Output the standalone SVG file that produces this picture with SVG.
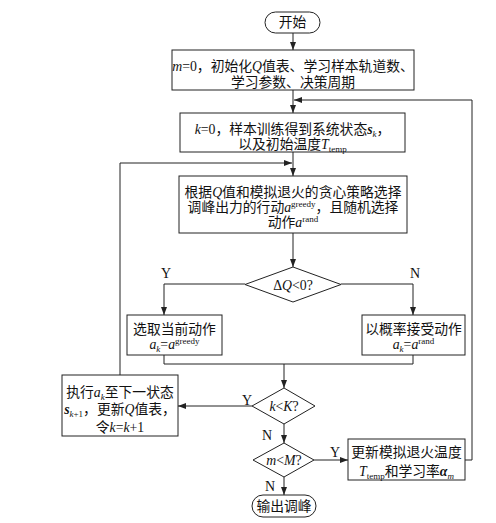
<svg xmlns="http://www.w3.org/2000/svg" width="496" height="523" viewBox="0 0 496 523">
<style>
  .box { fill: #fff; stroke: #222; stroke-width: 1; }
  .ln { fill: none; stroke: #222; stroke-width: 1; }
  .t { font-family: "Liberation Serif", "Noto Sans CJK SC", serif; font-size: 13.8px; fill: #111; text-anchor: middle; }
  .lab { font-family: "Liberation Serif", serif; font-size: 14px; fill: #111; text-anchor: middle; }
  .i { font-style: italic; }
  .bi { font-style: italic; font-weight: bold; }
  .s { font-size: 9px; }
</style>
<defs>
  <marker id="ah" viewBox="0 0 8 6" refX="8" refY="3" markerWidth="8" markerHeight="6" orient="auto" markerUnits="userSpaceOnUse">
    <path d="M0,0 L8,3 L0,6 z" fill="#222"/>
  </marker>
</defs>
<rect width="496" height="523" fill="#fff"/>

<g id="connectors">
  <path class="ln" d="M293,33 V50" marker-end="url(#ah)"/>
  <path class="ln" d="M293,90 V113" marker-end="url(#ah)"/>
  <path class="ln" d="M465,460 H472 V100 H294" marker-end="url(#ah)"/>
  <path class="ln" d="M293,152 V176" marker-end="url(#ah)"/>
  <path class="ln" d="M120,375 V163 H292" marker-end="url(#ah)"/>
  <path class="ln" d="M293,233 V267" marker-end="url(#ah)"/>
  <path class="ln" d="M245,284 H164 V315" marker-end="url(#ah)"/>
  <path class="ln" d="M341,284 H413 V315" marker-end="url(#ah)"/>
  <path class="ln" d="M164,355 V364 H413 V355"/>
  <path class="ln" d="M284,364 V388" marker-end="url(#ah)"/>
  <path class="ln" d="M252,406 H178" marker-end="url(#ah)"/>
  <path class="ln" d="M284,424 V443" marker-end="url(#ah)"/>
  <path class="ln" d="M314,460 H348" marker-end="url(#ah)"/>
  <path class="ln" d="M284,477 V495" marker-end="url(#ah)"/>
  <text class="lab" x="166" y="278">Y</text>
  <text class="lab" x="415" y="278">N</text>
  <text class="lab" x="247" y="405">Y</text>
  <text class="lab" x="267" y="440">N</text>
  <text class="lab" x="335" y="457">Y</text>
  <text class="lab" x="270" y="491">N</text>
</g>

<g id="start">
  <rect class="box" x="265" y="12" width="55" height="21" rx="10.5"/>
  <text class="t" x="292.5" y="27">开始</text>
</g>

<g id="init">
  <rect class="box" x="172" y="50" width="242" height="40"/>
  <text class="t" x="293" y="71"><tspan class="i">m</tspan>=0，初始化<tspan class="i">Q</tspan>值表、学习样本轨道数、</text>
  <text class="t" x="293" y="87">学习参数、决策周期</text>
</g>

<g id="sample">
  <rect class="box" x="180" y="113" width="225" height="39"/>
  <text class="t" x="292.5" y="134"><tspan class="i">k</tspan>=0，样本训练得到系统状态<tspan class="bi">s</tspan><tspan class="s i" dy="3">k</tspan><tspan dy="-3">，</tspan></text>
  <text class="t" x="292.5" y="149">以及初始温度<tspan class="i">T</tspan><tspan class="s" dy="3">temp</tspan></text>
</g>

<g id="select">
  <rect class="box" x="179" y="176" width="228" height="57"/>
  <text class="t" x="293" y="197">根据<tspan class="i">Q</tspan>值和模拟退火的贪心策略选择</text>
  <text class="t" x="293" y="212">调峰出力的行动<tspan class="i">a</tspan><tspan class="s" dy="-5">greedy</tspan><tspan dy="5">，且随机选择</tspan></text>
  <text class="t" x="293" y="227">动作<tspan class="i">a</tspan><tspan class="s" dy="-5">rand</tspan></text>
</g>

<g id="dq">
  <polygon class="box" points="293,267 341,284.5 293,302 245,284.5"/>
  <text class="t" x="293" y="290">Δ<tspan class="i">Q</tspan>&lt;0?</text>
</g>

<g id="greedy">
  <rect class="box" x="127" y="315" width="95" height="40"/>
  <text class="t" x="174.5" y="334">选取当前动作</text>
  <text class="t" x="174.5" y="349"><tspan class="i">a</tspan><tspan class="s i" dy="3">k</tspan><tspan dy="-3">=</tspan><tspan class="i">a</tspan><tspan class="s" dy="-5">greedy</tspan></text>
</g>

<g id="rand">
  <rect class="box" x="362" y="315" width="103" height="40"/>
  <text class="t" x="413.5" y="334">以概率接受动作</text>
  <text class="t" x="413.5" y="349"><tspan class="i">a</tspan><tspan class="s i" dy="3">k</tspan><tspan dy="-3">=</tspan><tspan class="i">a</tspan><tspan class="s" dy="-5">rand</tspan></text>
</g>

<g id="kK">
  <polygon class="box" points="284,388 315,406 284,424 252,406"/>
  <text class="t" x="284" y="411"><tspan class="i">k</tspan>&lt;<tspan class="i">K</tspan>?</text>
</g>

<g id="exec">
  <rect class="box" x="62" y="375" width="116" height="61"/>
  <text class="t" x="120" y="397">执行<tspan class="i">a</tspan><tspan class="s i" dy="3">k</tspan><tspan dy="-3">至下一状态</tspan></text>
  <text class="t" x="120" y="414"><tspan class="bi">s</tspan><tspan class="s i" dy="3">k</tspan><tspan class="s">+1</tspan><tspan dy="-3">，更新</tspan><tspan class="i">Q</tspan>值表，</text>
  <text class="t" x="120" y="432">令<tspan class="i">k</tspan>=<tspan class="i">k</tspan>+1</text>
</g>

<g id="mM">
  <polygon class="box" points="284,443 314,460 284,477 253,460"/>
  <text class="t" x="284" y="465"><tspan class="i">m</tspan>&lt;<tspan class="i">M</tspan>?</text>
</g>

<g id="update">
  <rect class="box" x="348" y="439" width="117" height="41"/>
  <text class="t" x="406.5" y="457">更新模拟退火温度</text>
  <text class="t" x="406.5" y="476"><tspan class="i">T</tspan><tspan class="s" dy="3">temp</tspan><tspan dy="-3">和学习率</tspan><tspan class="bi">α</tspan><tspan class="s i" dy="3">m</tspan></text>
</g>

<g id="end">
  <rect class="box" x="252" y="495" width="64" height="22" rx="11"/>
  <text class="t" x="284" y="511">输出调峰</text>
</g>
</svg>
